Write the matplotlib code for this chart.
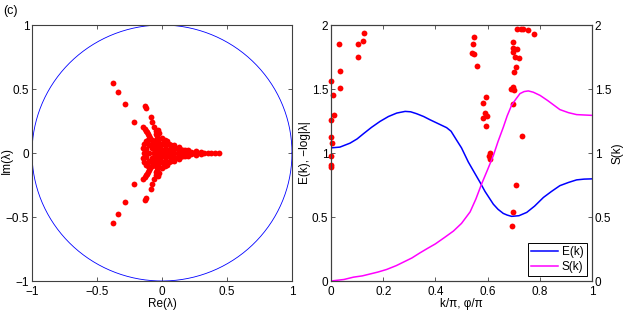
import numpy as np
import matplotlib
matplotlib.use('Agg')
import matplotlib.pyplot as plt

plt.rcParams['font.family'] = ['Liberation Sans', 'DejaVu Sans']
plt.rcParams['font.size'] = 8.5

# eigenvalues, upper half plane (conjugates are added below)
eig_re_upper = [-0.375, -0.34, -0.287, -0.218, -0.131, -0.123, -0.087, -0.075,
                -0.144, -0.118, -0.028, -0.021, -0.105,
                -0.13, -0.12, -0.11, -0.10, -0.09, -0.08, -0.07, -0.06, -0.05, -0.04, -0.03,
                -0.10, -0.08, -0.06, -0.04, -0.02, 0.0, 0.02, 0.04, 0.06, 0.08, 0.10, 0.12,
                0.14, 0.16, 0.18, -0.01, 0.01, 0.02, -0.02, 0.0, 0.03, 0.05, 0.07, -0.12,
                -0.14, -0.12, -0.13, -0.05, -0.04, -0.03, -0.06, -0.05, -0.045,
                0.20, 0.22, 0.26, 0.30, 0.04, 0.09, 0.13, -0.08, -0.15]
eig_im_upper = [0.545, 0.48, 0.38, 0.245, 0.367, 0.35, 0.279, 0.245,
                0.205, 0.166, 0.18, 0.159, 0.10,
                0.19, 0.175, 0.15, 0.135, 0.12, 0.105, 0.09, 0.08, 0.065, 0.05, 0.04,
                0.06, 0.04, 0.03, 0.02, 0.01, 0.02, 0.03, 0.025, 0.035, 0.03, 0.04, 0.035,
                0.03, 0.02, 0.025, 0.06, 0.08, 0.10, 0.11, 0.12, 0.06, 0.07, 0.06, 0.09,
                0.07, 0.03, 0.01, 0.10, 0.13, 0.08, 0.20, 0.17, 0.15,
                0.02, 0.01, 0.012, 0.008, 0.09, 0.06, 0.05, 0.07, 0.04]
eig_re_real = [-0.14, -0.10, -0.06, -0.03, 0.0, 0.03, 0.06, 0.09, 0.12, 0.15, 0.18,
               0.21, 0.24, 0.27, 0.30, 0.32, 0.35, 0.38, 0.41, 0.44]

# -log|lambda| against phi/pi
phi = [0.0, 0.0, 0.0, 0.004, 0.0, 0.0, 0.0, 0.009, 0.011, 0.029, 0.034, 0.034,
       0.103, 0.105, 0.124, 0.126,
       0.549, 0.544, 0.540, 0.547, 0.558,
       0.581, 0.594, 0.591, 0.584, 0.596, 0.594, 0.609, 0.607, 0.610,
       0.714, 0.727, 0.737, 0.756, 0.779, 0.698, 0.696, 0.714, 0.696, 0.705, 0.721,
       0.709, 0.702, 0.698, 0.690, 0.702, 0.698, 0.730, 0.708, 0.696, 0.692]
neglog = [1.566, 1.26, 1.124, 1.077, 0.98, 0.91, 0.89, 1.45, 1.30, 1.85, 1.64, 1.51,
          1.75, 1.85, 1.875, 1.935,
          1.91, 1.855, 1.78, 1.77, 1.68,
          1.39, 1.44, 1.315, 1.276, 1.286, 1.21, 1.0, 0.98, 0.95,
          1.966, 1.97, 1.966, 1.96, 1.93, 1.864, 1.82, 1.815, 1.79, 1.75, 1.745,
          1.67, 1.63, 1.516, 1.50, 1.495, 1.38, 1.13, 0.753, 0.536, 0.43]

k_E = [0.0, 0.034, 0.073, 0.10, 0.124, 0.155, 0.188, 0.22, 0.252, 0.284, 0.305,
       0.328, 0.355, 0.379, 0.41, 0.443, 0.46, 0.482, 0.50, 0.526, 0.55, 0.571,
       0.59, 0.622, 0.64, 0.66, 0.675, 0.692, 0.72, 0.75, 0.78, 0.814, 0.845,
       0.877, 0.91, 0.941, 0.97, 1.0]
E = [1.04, 1.046, 1.077, 1.11, 1.15, 1.20, 1.247, 1.285, 1.312, 1.325, 1.322,
     1.307, 1.285, 1.26, 1.23, 1.198, 1.17, 1.098, 1.04, 0.93, 0.845, 0.771,
     0.70, 0.60, 0.56, 0.528, 0.515, 0.505, 0.51, 0.536, 0.585, 0.653, 0.70,
     0.745, 0.77, 0.79, 0.796, 0.798]

k_S = [0.0, 0.05, 0.086, 0.12, 0.15, 0.18, 0.213, 0.25, 0.28, 0.31, 0.341, 0.37,
       0.40, 0.435, 0.469, 0.50, 0.533, 0.555, 0.577, 0.60, 0.622, 0.64, 0.66,
       0.675, 0.692, 0.708, 0.724, 0.74, 0.756, 0.775, 0.801, 0.83, 0.877, 0.91,
       0.941, 0.97, 1.0]
S = [0.0, 0.012, 0.03, 0.04, 0.055, 0.07, 0.09, 0.12, 0.15, 0.18, 0.22, 0.255,
     0.29, 0.34, 0.39, 0.45, 0.54, 0.64, 0.758, 0.87, 0.98, 1.09, 1.2,
     1.29, 1.373, 1.42, 1.464, 1.48, 1.485, 1.475, 1.45, 1.41, 1.339, 1.315,
     1.30, 1.297, 1.294]

eig_re = eig_re_upper + eig_re_upper + eig_re_real
eig_im = eig_im_upper + [-v for v in eig_im_upper] + [0.0] * len(eig_re_real)

fig = plt.figure(figsize=(6.23, 3.12), dpi=100)
ax1 = fig.add_axes([32 / 623, 31 / 312, 260 / 623, 256 / 312])
ax2 = fig.add_axes([331 / 623, 31 / 312, 261 / 623, 256 / 312])

spine_col = '0.25'
for a in (ax1, ax2):
    for s in a.spines.values():
        s.set_color(spine_col)
        s.set_linewidth(0.8)
    a.tick_params(direction='in', length=3, width=0.6, color=spine_col, pad=2)

# unit circle + eigenvalues
t = np.linspace(0, 2 * np.pi, 400)
ax1.plot(np.cos(t), np.sin(t), color='blue', lw=0.6)
ax1.plot(eig_re, eig_im, 'o', color='red', ms=4.2, mec='none')
ax1.set_xlim(-1, 1)
ax1.set_ylim(-1, 1)
ax1.set_xticks([-1, -0.5, 0, 0.5, 1])
ax1.set_yticks([-1, -0.5, 0, 0.5, 1])
ax1.set_xticklabels(['\u22121', '\u22120.5', '0', '0.5', '1'])
ax1.set_yticklabels(['\u22121', '\u22120.5', '0', '0.5', '1'])
ax1.tick_params(top=True, right=True)
ax1.tick_params(axis='x', pad=3.5)
ax1.set_xlabel('Re(\u03bb)', labelpad=0)
ax1.set_ylabel('Im(\u03bb)')
ax1.yaxis.set_label_coords(-0.072, 0.47)

# spectrum panel
ax2.plot(phi, neglog, 'o', color='red', ms=4.2, mec='none', clip_on=False, zorder=3)
lE, = ax2.plot(k_E, E, color='#0000ff', lw=1.1, label='E(k)')
ax2.set_xlim(0, 1)
ax2.set_ylim(0, 2)
ax2.set_xticks([0, 0.2, 0.4, 0.6, 0.8, 1])
ax2.set_xticklabels(['0', '0.2', '0.4', '0.6', '0.8', '1'])
ax2.set_yticks([0, 0.5, 1, 1.5, 2])
ax2.set_yticklabels(['0', '0.5', '1', '1.5', '2'])
ax2.tick_params(top=True, right=False)
ax2.tick_params(axis='x', pad=3.5)
ax2.set_xlabel('k/\u03c0, \u03c6/\u03c0', labelpad=0)
ax2.set_ylabel('E(k), \u2212log|\u03bb|')
ax2.yaxis.set_label_coords(-0.075, 0.5)

ax3 = ax2.twinx()
lS, = ax3.plot(k_S, S, color='#ff00ff', lw=1.1, label='S(k)')
ax3.set_ylim(0, 2)
ax3.set_yticks([0, 0.5, 1, 1.5, 2])
ax3.set_yticklabels(['0', '0.5', '1', '1.5', '2'])
ax3.tick_params(direction='in', length=3, width=0.6, color=spine_col, pad=2)
for s in ax3.spines.values():
    s.set_color(spine_col)
    s.set_linewidth(0.8)
ax3.set_ylabel('S(k)')
ax3.yaxis.set_label_coords(1.075, 0.5)

leg = ax3.legend([lE, lS], ['E(k)', 'S(k)'], loc='lower right', fancybox=False,
                 edgecolor='black', framealpha=1, borderaxespad=0.4,
                 handlelength=2.3, handletextpad=0.3, borderpad=0.3, labelspacing=0.2)
leg.get_frame().set_linewidth(0.7)

fig.text(0.005, 0.965, '(c)', fontsize=9, va='center')

fig.savefig('out.png', dpi=100)
